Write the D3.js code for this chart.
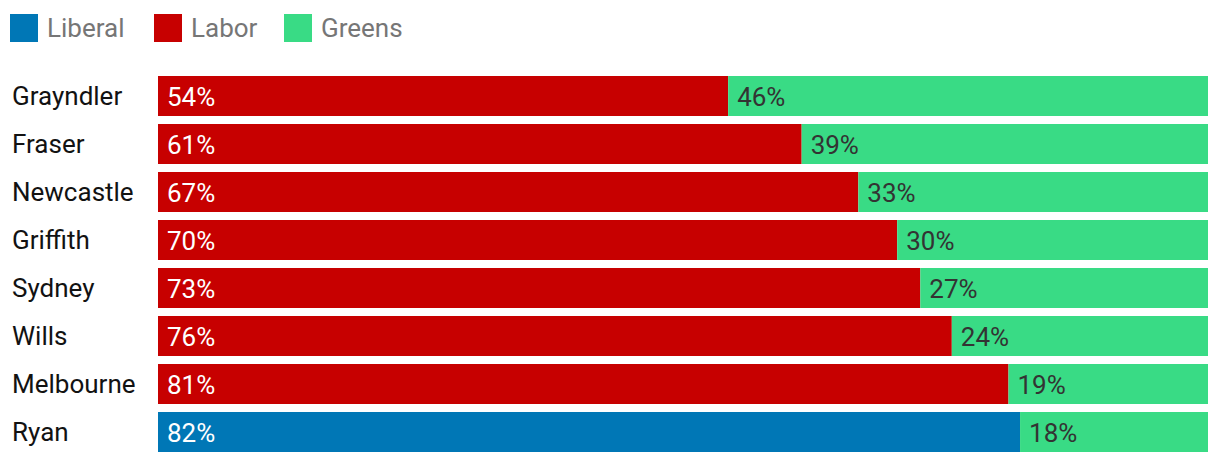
<!DOCTYPE html>
<html><head><meta charset="utf-8">
<script src="https://cdn.jsdelivr.net/npm/d3@7"></script>
<style>body{margin:0;background:#fff;font-family:Roboto,sans-serif}</style>
</head><body><svg id="c" width="1220" height="464"></svg>
<script>
const seats = ["Grayndler","Fraser","Newcastle","Griffith","Sydney","Wills","Melbourne","Ryan"];
const winnerParty = ["Labor","Labor","Labor","Labor","Labor","Labor","Labor","Liberal"];
const winnerShare = [54.3,61.3,66.7,70.4,72.6,75.6,81.0,82.1];
const greensShare = [45.7,38.7,33.3,29.6,27.4,24.4,19.0,17.9];
const parties = ["Liberal","Labor","Greens"];
const colors = {Liberal:"#0077b6", Labor:"#c70000", Greens:"#39db85"};
const textColors = {Liberal:"#ffffff", Labor:"#ffffff", Greens:"#333333"};

const svg = d3.select("#c");
const x = d3.scaleLinear().domain([0,100]).range([158,1208]);
const y = d3.scaleBand().domain(seats).range([76,452]).paddingInner(1/6).paddingOuter(0);

// legend
const legendPos = [10,154,284];
parties.forEach((p,i)=>{
  const g = svg.append("g").attr("transform",`translate(${legendPos[i]},14)`);
  g.append("rect").attr("width",28).attr("height",28).attr("fill",colors[p]);
  g.append("text").attr("x",37).attr("y",23).attr("font-size",26).attr("fill","#767676").text(p);
});

const rows = seats.map((s,i)=>({seat:s, segs:[
  {party:winnerParty[i], x0:0, x1:winnerShare[i], v:winnerShare[i]},
  {party:"Greens", x0:winnerShare[i], x1:winnerShare[i]+greensShare[i], v:greensShare[i]}
]}));

const row = svg.selectAll("g.row").data(rows).join("g").attr("class","row")
  .attr("transform",d=>`translate(0,${y(d.seat)})`);
row.append("text").attr("x",12).attr("y",29).attr("font-size",26).attr("fill","#121212").text(d=>d.seat);
const seg = row.selectAll("g.seg").data(d=>d.segs).join("g").attr("class","seg");
seg.append("rect").attr("x",d=>x(d.x0)).attr("width",d=>x(d.x1)-x(d.x0)).attr("y",0).attr("height",y.bandwidth()).attr("fill",d=>colors[d.party]);
seg.append("text").attr("x",d=>x(d.x0)+9).attr("y",30).attr("font-size",26).attr("fill",d=>textColors[d.party]).text(d=>Math.round(d.v)+"%");
</script></body></html>
